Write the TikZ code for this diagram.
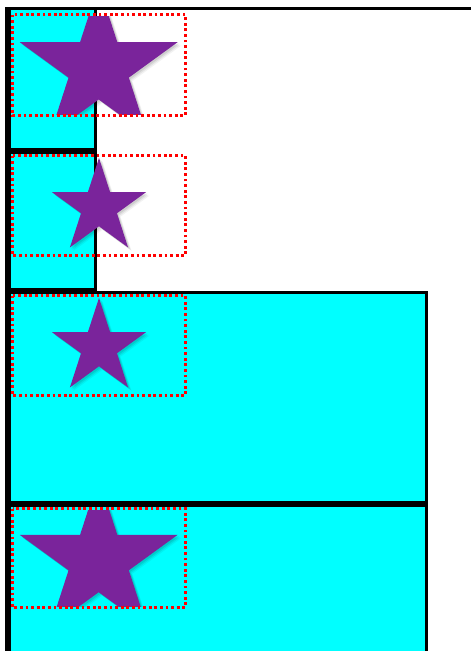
\documentclass[tikz,border=0pt]{standalone}
\definecolor{boxcyan}{RGB}{0,255,255}
\definecolor{starpurple}{RGB}{122,36,155}

\tikzset{
	boxline/.style={draw=black, line width=2.25pt, fill=boxcyan},
	imgframe/.style={draw=red, line width=2.1pt, dash pattern=on 2.1pt off 2.1pt},
	pics/pentastar/.style={code={
		\foreach \s/\o in {3.5/0.05,2.5/0.07,1.5/0.09}
			\fill[black, opacity=\o, shift={(\s,\s)}] (-90:#1)
			\foreach \k in {1,...,9}{ -- (-90+36*\k:{ifthenelse(isodd(\k),0.382*#1,#1)}) } -- cycle;
		\fill[starpurple] (-90:#1)
			\foreach \k in {1,...,9}{ -- (-90+36*\k:{ifthenelse(isodd(\k),0.382*#1,#1)}) } -- cycle;
	}}
}

\begin{document}
\begin{tikzpicture}[x=0.75pt, y=-0.75pt]
				\useasboundingbox (0,0) rectangle (471,651);
				\clip (0,0) rectangle (471,651);
				% outer frame
				\fill[black] (5,7) rectangle (471,10);
				\fill[black] (5,7) rectangle (8,651);
				% the four boxes
				\draw[boxline] (9.5,8.5) rectangle (95.5,149.5);
				\draw[boxline] (9.5,152.5) rectangle (95.5,289.5);
				\draw[boxline] (9.5,292.5) rectangle (426.5,502.5);
				\draw[boxline] (9.5,505.5) rectangle (426.5,665);
				% stars
				\begin{scope}
					\clip (14,16) rectangle (184,114);
					\pic (star1) at (98.7,67.8) {pentastar=83};
				\end{scope}
				\pic (star2) at (99,207.4) {pentastar=49.5};
				\pic (star3) at (99,347.4) {pentastar=49.5};
				\begin{scope}
					\clip (14,510) rectangle (184,606);
					\pic (star4) at (98.7,560.5) {pentastar=83};
				\end{scope}
				% dotted image frames
				\draw[imgframe] (12.5,14.5) rectangle (185.5,115.5);
				\draw[imgframe] (12.5,155.5) rectangle (185.5,255.5);
				\draw[imgframe] (12.5,295.5) rectangle (185.5,395.5);
				\draw[imgframe] (12.5,508.5) rectangle (185.5,607.5);
			\end{tikzpicture}
\end{document}
